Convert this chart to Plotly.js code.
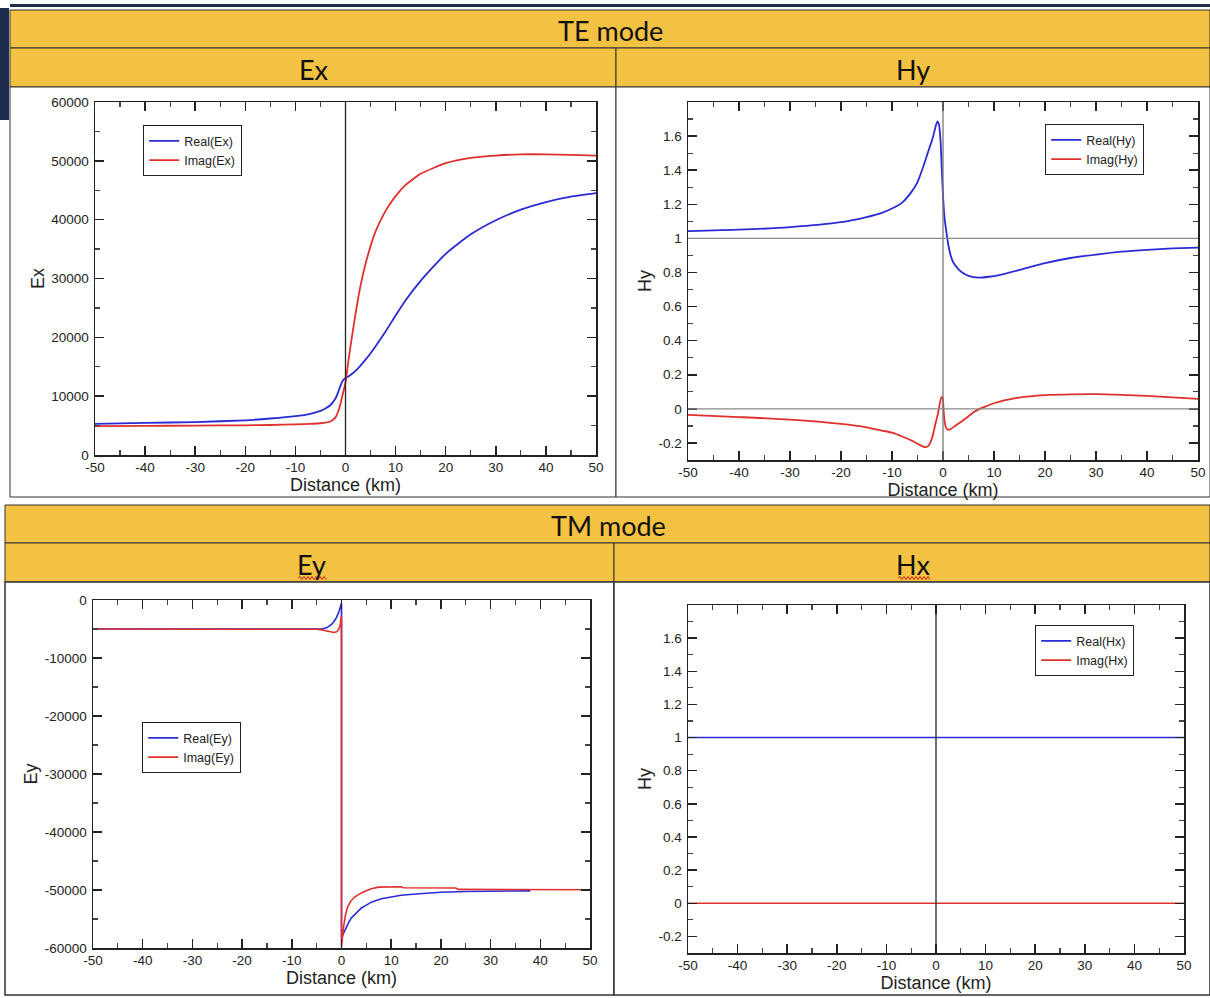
<!DOCTYPE html>
<html>
<head>
<meta charset="utf-8">
<script src="https://cdn.plot.ly/plotly-3.0.1.min.js"></script>
<style>html,body{margin:0;padding:0;background:#fff;}#chart{width:1210px;height:998px;}</style>
</head>
<body>
<div id="chart"></div>
<script>
// ---------------- DATA ----------------
const xTickVals = [-50,-40,-30,-20,-10,0,10,20,30,40,50];
const xTickText = ['-50','-40','-30','-20','-10','0','10','20','30','40','50'];

// TE mode: Ex
const exX    = [-50,-40,-30,-20,-15,-10,-7,-5,-4,-3,-2,-1.5,-1,-0.5,0,0.5,1,2,3,4,5,6,8,10,12,15,20,25,30,35,40,45,50];
const exReal = [5300,5450,5600,5900,6200,6600,7000,7500,7900,8500,9600,10600,11800,12700,13100,13300,13600,14300,15200,16200,17300,18500,21000,23700,26300,29600,34200,37500,39900,41700,43000,43900,44500];
const exImag = [4900,4950,5000,5050,5100,5200,5300,5400,5500,5700,6400,7300,8700,10500,12300,15500,18500,24000,28800,32500,35500,38000,41500,44000,45900,47800,49600,50500,50900,51100,51100,51000,50900];
const exYTickVals = [0,10000,20000,30000,40000,50000,60000];
const exYTickText = ['0','10000','20000','30000','40000','50000','60000'];

// TE mode: Hy
const hyRealX = [-50,-40,-30,-20,-15,-12,-10,-8,-6,-5,-4,-3,-2,-1.5,-1.1,-0.8,-0.5,-0.3,0,0.3,0.7,1,1.5,2,3,4,5,7,9,11,15,20,25,30,35,40,45,50];
const hyReal  = [1.043,1.051,1.066,1.095,1.125,1.15,1.175,1.21,1.28,1.33,1.41,1.50,1.59,1.65,1.686,1.67,1.58,1.45,1.25,1.12,1.03,0.97,0.90,0.86,0.82,0.795,0.78,0.77,0.775,0.785,0.815,0.855,0.885,0.905,0.922,0.933,0.941,0.946];
const hyImagX = [-50,-40,-30,-20,-15,-12,-10,-8,-6,-5,-4,-3.5,-3,-2.5,-2,-1.5,-1,-0.6,-0.3,-0.1,0.1,0.3,0.6,1,1.5,2.25,3,4.5,6,7,8,10,12,14,17,20,25,30,35,40,45,50];
const hyImag  = [-0.035,-0.048,-0.063,-0.088,-0.108,-0.127,-0.14,-0.162,-0.188,-0.205,-0.22,-0.225,-0.22,-0.2,-0.155,-0.09,-0.03,0.035,0.068,0.07,0.0,-0.07,-0.11,-0.123,-0.118,-0.103,-0.087,-0.055,-0.02,-0.003,0.01,0.033,0.05,0.062,0.073,0.08,0.085,0.086,0.082,0.076,0.067,0.058];
const hYTickVals = [-0.2,0,0.2,0.4,0.6,0.8,1,1.2,1.4,1.6];
const hYTickText = ['-0.2','0','0.2','0.4','0.6','0.8','1','1.2','1.4','1.6'];
const hYMinor    = [-0.1,0.1,0.3,0.5,0.7,0.9,1.1,1.3,1.5,1.7];

// TM mode: Ey
const eyRealX = [-50,-10,-6,-4,-3,-2,-1.5,-1,-0.5,-0.2,0,0,0.3,0.6,1,1.5,2,3,4,5,6,8,10,12,15,20,25,30,38];
const eyReal  = [-5000,-5000,-5050,-5000,-4800,-4200,-3700,-3000,-2000,-1200,-500,-58200,-57600,-57000,-56300,-55500,-54800,-53900,-53100,-52600,-52100,-51500,-51200,-50900,-50700,-50400,-50250,-50200,-50150];
const eyImagX = [-50,-10,-5,-4,-3,-2,-1.5,-1,-0.6,-0.3,-0.1,0,0,0.2,0.4,0.8,1.2,1.8,2.5,3.4,4.5,6,7.5,12,12.5,23,23.5,50];
const eyImag  = [-5000,-5000,-5050,-5150,-5350,-5550,-5600,-5500,-5100,-4500,-3600,-2800,-59800,-58000,-56500,-54300,-53000,-52000,-51300,-50800,-50300,-49800,-49500,-49450,-49600,-49650,-49900,-49950];
const eyYTickVals = [-60000,-50000,-40000,-30000,-20000,-10000,0];
const eyYTickText = ['-60000','-50000','-40000','-30000','-20000','-10000','0'];

// TM mode: Hx
const hxX    = [-50,50];
const hxReal = [1,1];
const hxImag = [0,0];

// ---------------- LAYOUT HELPERS ----------------
const W = 1210, H = 998;
const PX = x => x / W;
const PY = y => 1 - y / H;
const BLUE = '#2b2bd6', RED = '#e0302e';
const HEAD = '#F4C242';
const FONT = 'Liberation Sans, Arial, sans-serif';

function rect(x0, y0, x1, y1, fill, line, lw) {
  return {type:'rect', xref:'paper', yref:'paper', x0:PX(x0), x1:PX(x1), y0:PY(y1), y1:PY(y0),
          fillcolor:fill, line:{color:line||'rgba(0,0,0,0)', width:(lw===undefined?1:lw)}, layer:'below'};
}
function wavy(x0, x1, y) {
  let d = 'M' + PX(x0) + ',' + PY(y);
  let up = true;
  for (let x = x0 + 2; x <= x1; x += 2) {
    d += ' L' + PX(x) + ',' + PY(y + (up ? -1.5 : 1.5));
    up = !up;
  }
  return {type:'path', xref:'paper', yref:'paper', path:d, line:{color:'#d02020', width:1}, layer:'above'};
}
function headText(text, x, y) {
  return {text:text, xref:'paper', yref:'paper', x:PX(x), y:PY(y), showarrow:false,
          xanchor:'center', yanchor:'middle', font:{family:'Lato, Open Sans, sans-serif', size:27, color:'#111'}};
}

function xAxis(domain, anchor) {
  return {domain:domain, anchor:anchor, range:[-50,50], showgrid:false, zeroline:false,
          showline:true, linecolor:'#222', linewidth:1.5, mirror:'ticks',
          ticks:'inside', ticklen:9, tickwidth:1.5, tickcolor:'#222',
          tickmode:'array', tickvals:xTickVals, ticktext:xTickText, ticklabelstandoff:-1,
          minor:{tickmode:'array', tickvals:[-45,-35,-25,-15,-5,5,15,25,35,45], ticklen:5, tickwidth:1.2, tickcolor:'#444', ticks:'inside', showgrid:false},
          tickfont:{family:FONT, size:13.5, color:'#222'},
          title:{text:'Distance (km)', font:{family:FONT, size:18, color:'#222'}, standoff:1}};
}
function yAxis(domain, anchor, range, tv, tt, minorVals, title) {
  return {domain:domain, anchor:anchor, range:range, showgrid:false, zeroline:false,
          showline:true, linecolor:'#222', linewidth:1.5, mirror:'ticks',
          ticks:'inside', ticklen:9, tickwidth:1.5, tickcolor:'#222',
          tickmode:'array', tickvals:tv, ticktext:tt, ticklabelstandoff:2,
          minor:{tickmode:'array', tickvals:minorVals, ticklen:5, tickwidth:1.2, tickcolor:'#444', ticks:'inside', showgrid:false},
          tickfont:{family:FONT, size:13.5, color:'#222'},
          title:{text:title, font:{family:FONT, size:18, color:'#222'}, standoff:2}};
}
function legendAt(x, y) {
  return {x:PX(x), y:PY(y), xanchor:'left', yanchor:'top', bgcolor:'#fff', bordercolor:'#222', borderwidth:1.2,
          font:{family:FONT, size:12.5, color:'#222'}, itemwidth:30, tracegroupgap:0};
}

const traces = [
  {x:exX, y:exReal, type:'scatter', mode:'lines', name:'Real(Ex)', line:{color:BLUE, width:1.8, shape:'spline', smoothing:0.5}, xaxis:'x', yaxis:'y', legend:'legend'},
  {x:exX, y:exImag, type:'scatter', mode:'lines', name:'Imag(Ex)', line:{color:RED, width:1.8, shape:'spline', smoothing:0.5}, xaxis:'x', yaxis:'y', legend:'legend'},
  {x:hyRealX, y:hyReal, type:'scatter', mode:'lines', name:'Real(Hy)', line:{color:BLUE, width:1.8, shape:'spline', smoothing:0.6}, xaxis:'x2', yaxis:'y2', legend:'legend2'},
  {x:hyImagX, y:hyImag, type:'scatter', mode:'lines', name:'Imag(Hy)', line:{color:RED, width:1.8, shape:'spline', smoothing:0.6}, xaxis:'x2', yaxis:'y2', legend:'legend2'},
  {x:eyRealX, y:eyReal, type:'scatter', mode:'lines', name:'Real(Ey)', line:{color:BLUE, width:1.6}, xaxis:'x3', yaxis:'y3', legend:'legend3'},
  {x:eyImagX, y:eyImag, type:'scatter', mode:'lines', name:'Imag(Ey)', line:{color:RED, width:1.6}, xaxis:'x3', yaxis:'y3', legend:'legend3'},
  {x:hxX, y:hxReal, type:'scatter', mode:'lines', name:'Real(Hx)', line:{color:BLUE, width:1.6}, xaxis:'x4', yaxis:'y4', legend:'legend4'},
  {x:hxX, y:hxImag, type:'scatter', mode:'lines', name:'Imag(Hx)', line:{color:RED, width:1.6}, xaxis:'x4', yaxis:'y4', legend:'legend4'}
];

const shapes = [
  // decorative dark edges
  rect(0, 8, 9, 120, '#1d2c4c', null, 0),
  rect(10, 4, 1210, 7, '#1d2c4c', null, 0),
  // TE mode section
  rect(10, 10, 1210, 48, HEAD, '#333', 1),
  rect(10, 48, 616, 87, HEAD, '#333', 1),
  rect(616, 48, 1210, 87, HEAD, '#333', 1),
  rect(10, 87, 616, 497, '#ffffff', '#333', 1),
  rect(616, 87, 1210, 497, '#ffffff', '#333', 1),
  // TM mode section
  rect(5, 505, 1210, 543, HEAD, '#333', 1),
  rect(5, 543, 614, 582, HEAD, '#333', 1),
  rect(614, 543, 1210, 582, HEAD, '#333', 1),
  rect(5, 582, 614, 995, '#ffffff', '#333', 1.5),
  rect(614, 582, 1210, 995, '#ffffff', '#333', 1.5),
  // spell-check underlines
  wavy(298, 326, 578),
  wavy(898, 930, 578),
  // reference lines
  {type:'line', xref:'x', yref:'y domain', x0:0, x1:0, y0:0, y1:1, line:{color:'#222', width:1.3}},
  {type:'line', xref:'x2', yref:'y2 domain', x0:0, x1:0, y0:0, y1:1, line:{color:'#777', width:1.3}},
  {type:'line', xref:'x2 domain', yref:'y2', x0:0, x1:1, y0:1, y1:1, line:{color:'#888', width:1.3}},
  {type:'line', xref:'x2 domain', yref:'y2', x0:0, x1:1, y0:0, y1:0, line:{color:'#888', width:1.3}},
  {type:'line', xref:'x4', yref:'y4 domain', x0:0, x1:0, y0:0, y1:1, line:{color:'#222', width:1.3}}
];

const layout = {
  width:W, height:H, margin:{l:0, r:0, t:0, b:0},
  paper_bgcolor:'#ffffff', plot_bgcolor:'rgba(0,0,0,0)',
  font:{family:FONT, color:'#222'},
  showlegend:true,
  xaxis:  xAxis([PX(95), PX(596)], 'y'),
  yaxis:  yAxis([PY(455), PY(102)], 'x', [0,60000], exYTickVals, exYTickText, [5000,15000,25000,35000,45000,55000], 'Ex'),
  xaxis2: xAxis([PX(688), PX(1198)], 'y2'),
  yaxis2: yAxis([PY(460), PY(102)], 'x2', [-0.3,1.8], hYTickVals, hYTickText, hYMinor, 'Hy'),
  xaxis3: xAxis([PX(93), PX(590)], 'y3'),
  yaxis3: yAxis([PY(948), PY(600)], 'x3', [-60000,0], eyYTickVals, eyYTickText, [-55000,-45000,-35000,-25000,-15000,-5000], 'Ey'),
  xaxis4: xAxis([PX(688), PX(1184)], 'y4'),
  yaxis4: yAxis([PY(953), PY(605)], 'x4', [-0.3,1.8], hYTickVals, hYTickText, hYMinor, 'Hy'),
  legend:  legendAt(143, 125),
  legend2: legendAt(1045, 124),
  legend3: legendAt(142, 722),
  legend4: legendAt(1035, 625),
  shapes: shapes,
  annotations: [
    headText('TE mode', 610, 30),
    headText('Ex', 314, 69),
    headText('Hy', 913, 69),
    headText('TM mode', 608, 525),
    headText('Ey', 311, 564),
    headText('Hx', 913, 564)
  ]
};

Plotly.newPlot('chart', traces, layout, {displayModeBar:false, staticPlot:true});
</script>
</body>
</html>
